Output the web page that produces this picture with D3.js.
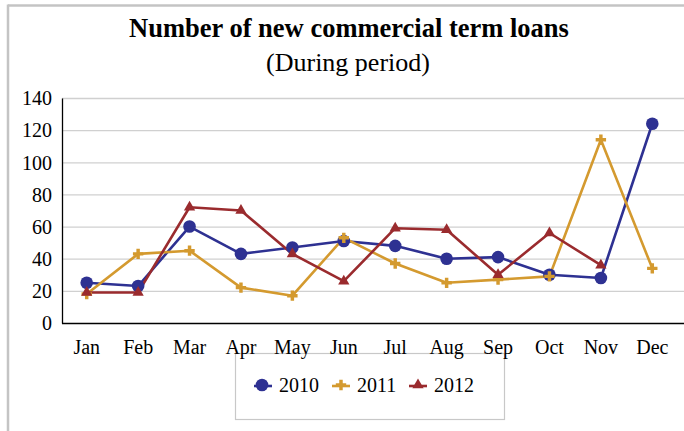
<!DOCTYPE html>
<html><head><meta charset="utf-8">
<script src="https://cdn.jsdelivr.net/npm/d3@7/dist/d3.min.js"></script>
<style>body{margin:0;background:#fff}svg{display:block}text{font-family:"Liberation Serif","Times New Roman",serif;fill:#000}</style>
</head><body><svg id="c" width="684" height="431"></svg>
<script>
const months = ["Jan","Feb","Mar","Apr","May","Jun","Jul","Aug","Sep","Oct","Nov","Dec"];
const s2010 = [25,23,60,43,47,51,48,40,41,30,28,124];
const s2011 = [18,43,45,22,17,53,37,25,27,29,114,34];
const s2012 = [19,19,72,70,43,26,59,58,30,56,36,null];
const yTicks = [0,20,40,60,80,100,120,140];
const seriesNames = ["2010","2011","2012"];
const colors = ["#2E3192","#D49A2F","#9A2B2E"];
const shapes = ["circle","cross","triangle"];
const FONT = "'Liberation Serif','Times New Roman',serif";

const svg = d3.select("#c");
svg.append("rect").attr("x",0).attr("y",0).attr("width",684).attr("height",431).attr("fill","#fff");
svg.append("line").attr("x1",8).attr("x2",684).attr("y1",5.5).attr("y2",5.5).attr("stroke","#c4c4c4").attr("stroke-width",2.5);
svg.append("line").attr("x1",8).attr("x2",8).attr("y1",4.5).attr("y2",431).attr("stroke","#c4c4c4").attr("stroke-width",2.5);

const L=62, R=678, T=98, B=323;
const x = d3.scaleBand().domain(months).range([L-1,R]);
const y = d3.scaleLinear().domain([0,140]).range([B,T]);

svg.append("rect").attr("x",235.5).attr("y",353.5).attr("width",269).attr("height",66)
  .attr("fill","#fff").attr("stroke","#c8c8c8").attr("stroke-width",1.2);

svg.append("g").selectAll("line").data(yTicks.filter(d=>d>0)).join("line")
  .attr("x1",L).attr("x2",684).attr("y1",d=>y(d)+0.5).attr("y2",d=>y(d)+0.5)
  .attr("stroke","#d0d0d0").attr("stroke-width",1.3);

const yAxis = svg.append("g").attr("transform",`translate(${L},0)`)
  .call(d3.axisLeft(y).tickValues(yTicks).tickSize(0).tickPadding(10))
  .attr("font-family",FONT).attr("font-size",20);
yAxis.select(".domain").attr("stroke","#000").attr("stroke-width",1.3);
yAxis.selectAll("text").attr("dy","0.34em");

const xAxis = svg.append("g").attr("transform",`translate(0,${B})`)
  .call(d3.axisBottom(x).tickSize(0).tickPadding(17))
  .attr("font-family",FONT).attr("font-size",20);
xAxis.select(".domain").attr("d",`M${L},0.5H684`).attr("stroke","#000").attr("stroke-width",1.3);

svg.append("text").attr("x",349).attr("y",37).attr("text-anchor","middle")
  .attr("font-size",26.5).attr("font-weight","bold").text("Number of new commercial term loans");
svg.append("text").attr("x",348).attr("y",71).attr("text-anchor","middle")
  .attr("font-size",26).text("(During period)");

const cx = m => x(m) + x.bandwidth()/2;
function marker(g, shape, color){
  if(shape==="circle") g.append("circle").attr("r",6.3).attr("fill",color);
  else if(shape==="cross") g.append("path").attr("d",d3.symbol().type(d3.symbolCross).size(60)).attr("fill",color);
  else g.append("path").attr("d",d3.symbol().type(d3.symbolTriangle).size(55)).attr("fill",color);
}
const data = [s2010,s2011,s2012];
const line = d3.line().defined(d=>d.v!=null).x(d=>cx(d.m)).y(d=>y(d.v));
data.forEach((arr,i)=>{
  const pts = months.map((m,j)=>({m,v:arr[j]}));
  svg.append("path").datum(pts).attr("d",line).attr("fill","none")
    .attr("stroke",colors[i]).attr("stroke-width",2.6).attr("stroke-linejoin","round");
});
data.forEach((arr,i)=>{
  months.forEach((m,j)=>{
    if(arr[j]==null) return;
    const g = svg.append("g").attr("transform",`translate(${cx(m)},${y(arr[j])})`);
    marker(g, shapes[i], colors[i]);
  });
});

const legX = [263,341,418];
seriesNames.forEach((n,i)=>{
  svg.append("line").attr("x1",legX[i]-9).attr("x2",legX[i]+9).attr("y1",386).attr("y2",386)
    .attr("stroke",colors[i]).attr("stroke-width",2.6);
  const g = svg.append("g").attr("transform",`translate(${legX[i]-(i===0?1:0)},${385})`);
  marker(g, shapes[i], colors[i]);
  svg.append("text").attr("x",legX[i]+16).attr("y",392).attr("font-size",20).text(n);
});
</script></body></html>
